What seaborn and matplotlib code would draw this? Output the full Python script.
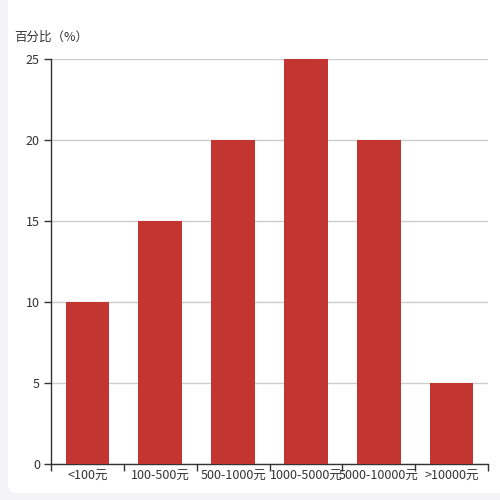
import matplotlib
matplotlib.use("Agg")
import matplotlib.pyplot as plt
from matplotlib.patches import FancyBboxPatch
import seaborn as sns
import pandas as pd

# 价格区间和百分比
categories = ["<100元", "100-500元", "500-1000元", "1000-5000元", "5000-10000元", ">10000元"]
values = [10, 15, 20, 25, 20, 5]
y_ticks = [0, 5, 10, 15, 20, 25]

df = pd.DataFrame({"range": categories, "pct": values})

sns.set_style("white")
plt.rcParams["font.family"] = ["Noto Sans CJK SC", "DejaVu Sans"]

fig = plt.figure(figsize=(5, 5), dpi=100, facecolor="#f3f3f8")
# 白色卡片背景
card = FancyBboxPatch((0.016, 0.014), 1.0, 1.04, boxstyle="round,pad=0,rounding_size=0.016",
                      transform=fig.transFigure, facecolor="white", edgecolor="none", zorder=-5)
fig.patches.append(card)

ax = fig.add_axes([0.102, 0.072, 0.874, 0.81])
ax.set_zorder(2)
ax.set_facecolor("none")
sns.barplot(data=df, x="range", y="pct", color="#c23531", saturation=1, width=0.6,
            linewidth=0, ax=ax, zorder=3)

ax.set_ylim(0, 25)
ax.set_xlim(-0.5, len(categories) - 0.5)
ax.set_yticks(y_ticks)
ax.yaxis.grid(True, color="#cccccc", linewidth=1)
ax.set_axisbelow(True)
for s in ["top", "right"]:
    ax.spines[s].set_visible(False)
for s in ["left", "bottom"]:
    ax.spines[s].set_color("#333333")
    ax.spines[s].set_linewidth(1)

# x轴刻度线在类别之间
ax.set_xticks(range(len(categories)))
ax.set_xticklabels(categories)
ax.set_xticks([i - 0.5 for i in range(len(categories) + 1)], minor=True)
ax.tick_params(axis="x", which="major", bottom=True, length=0, labelsize=9, colors="#333333", pad=4)
ax.tick_params(axis="x", which="minor", bottom=True, length=5, color="#333333", width=1)
ax.tick_params(axis="y", left=True, length=5, color="#333333", labelsize=9, labelcolor="#333333",
               width=1, pad=3)
ax.set_xlabel("")
ax.set_ylabel("")

fig.text(0.028, 0.925, "百分比（%）", fontsize=9, color="#333333", ha="left", va="center")

fig.savefig("out.png", dpi=100, facecolor=fig.get_facecolor())
